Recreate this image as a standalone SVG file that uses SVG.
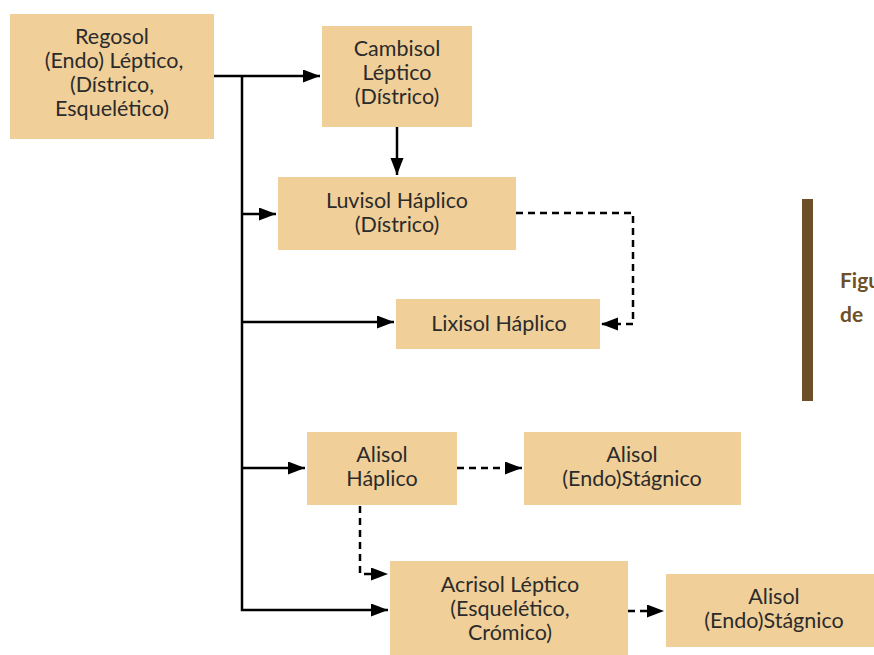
<svg xmlns="http://www.w3.org/2000/svg" width="874" height="655" viewBox="0 0 874 655">
<style>
.box{fill:#f0cf99}
.t{font-family:Lato,"Liberation Sans",sans-serif;font-size:21.5px;fill:#2b2b2b;text-anchor:middle}
.c{fill:none;stroke:#000;stroke-width:2.5}
.d{stroke-dasharray:7 5}
.cap{font-family:Lato,"Liberation Sans",sans-serif;font-size:21px;font-weight:bold;fill:#6e5028}
</style>
<defs>
<marker id="ah" markerUnits="userSpaceOnUse" markerWidth="18" markerHeight="14" refX="17" refY="6.5" orient="auto">
<path d="M0,0 L17,6.5 L0,13 z" fill="#000"/>
</marker>
</defs>
<rect x="0" y="0" width="874" height="655" fill="#fff"/>
<g id="connectors">
<path class="c" d="M214,76 H320" marker-end="url(#ah)"/>
<path class="c" d="M242,76 V610 H388" marker-end="url(#ah)"/>
<path class="c" d="M242,214 H276" marker-end="url(#ah)"/>
<path class="c" d="M242,322 H394" marker-end="url(#ah)"/>
<path class="c" d="M242,468 H305" marker-end="url(#ah)"/>
<path class="c" d="M397,127 V175" marker-end="url(#ah)"/>
<path class="c d" d="M516,213 H633 V324 H601" marker-end="url(#ah)"/>
<path class="c d" d="M457,468 H522" marker-end="url(#ah)"/>
<path class="c d" d="M360,506 V574 H388" marker-end="url(#ah)"/>
<path class="c d" d="M628,611 H664" marker-end="url(#ah)"/>
</g>
<g id="regosol">
<rect class="box" x="10" y="14" width="204" height="125"/>
<text class="t" x="112" y="44">Regosol</text>
<text class="t" x="114" y="68">(Endo) Léptico,</text>
<text class="t" x="112" y="92">(Dístrico,</text>
<text class="t" x="112" y="116">Esquelético)</text>
</g>
<g id="cambisol">
<rect class="box" x="322" y="26" width="150" height="101"/>
<text class="t" x="397" y="56">Cambisol</text>
<text class="t" x="397" y="80">Léptico</text>
<text class="t" x="397" y="104">(Dístrico)</text>
</g>
<g id="luvisol">
<rect class="box" x="278" y="177" width="238" height="73"/>
<text class="t" x="397" y="208">Luvisol Háplico</text>
<text class="t" x="397" y="232">(Dístrico)</text>
</g>
<g id="lixisol">
<rect class="box" x="396" y="299" width="204" height="50"/>
<text class="t" x="499" y="331">Lixisol Háplico</text>
</g>
<g id="alisol-haplico">
<rect class="box" x="307" y="432" width="150" height="73"/>
<text class="t" x="382" y="462">Alisol</text>
<text class="t" x="382" y="486">Háplico</text>
</g>
<g id="alisol-stagnico-1">
<rect class="box" x="524" y="432" width="217" height="73"/>
<text class="t" x="632" y="462">Alisol</text>
<text class="t" x="632" y="486">(Endo)Stágnico</text>
</g>
<g id="acrisol">
<rect class="box" x="390" y="561" width="238" height="94"/>
<text class="t" x="510" y="592">Acrisol Léptico</text>
<text class="t" x="510" y="616">(Esquelético,</text>
<text class="t" x="510" y="640">Crómico)</text>
</g>
<g id="alisol-stagnico-2">
<rect class="box" x="666" y="574" width="208" height="73"/>
<text class="t" x="774" y="604">Alisol</text>
<text class="t" x="774" y="628">(Endo)Stágnico</text>
</g>
<rect x="802" y="199" width="11" height="202" fill="#6e5028"/>
<text class="cap" x="840" y="288">Figu</text>
<text class="cap" x="840" y="322">de</text>
</svg>
